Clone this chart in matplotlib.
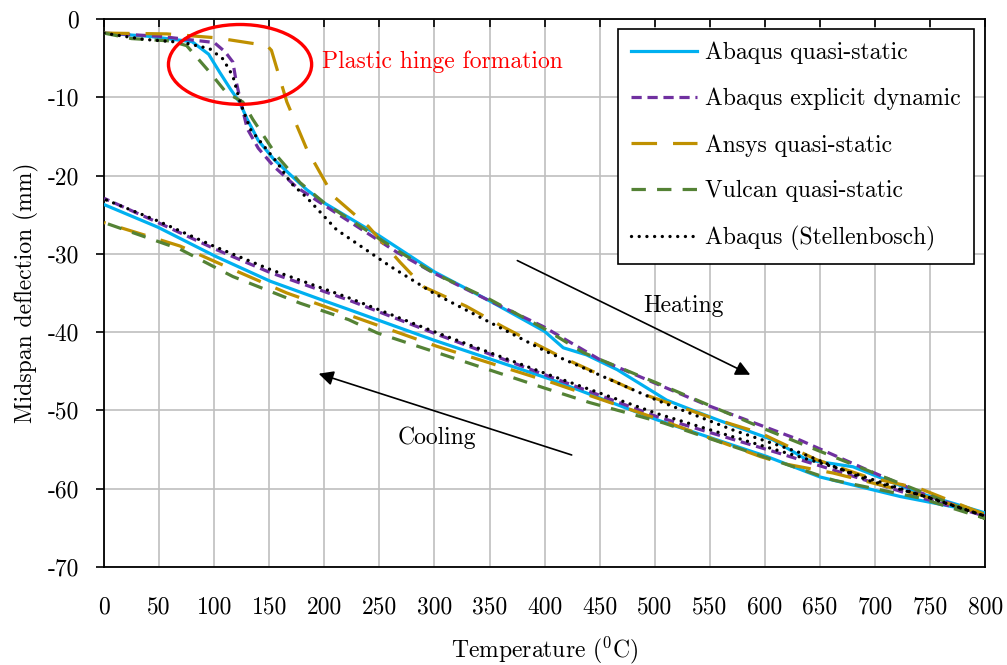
import numpy as np
import matplotlib
matplotlib.use("Agg")
import matplotlib.pyplot as plt
from matplotlib.patches import Ellipse

plt.rcParams['font.family'] = ['cmr10', 'DejaVu Serif']
plt.rcParams['mathtext.fontset'] = 'cm'
plt.rcParams['axes.unicode_minus'] = False
plt.rcParams['axes.formatter.use_mathtext'] = False

# heating 0 -> 800, then cooling 800 -> 0
abq_qs_T = [0, 40, 80, 95, 105, 115, 123, 130, 140, 154, 170, 184, 200, 250, 300, 350, 400, 417, 438, 466, 511, 557, 608, 638, 680, 741, 800,
            723, 650, 602, 502, 405, 299, 222, 200, 151, 101, 49, 0]
abq_qs_d = [-1.8, -2.2, -2.9, -4.5, -6.8, -9.0, -10.6, -12.8, -15.5, -17.9, -20.0, -21.8, -23.5, -27.7, -32.3, -36.0, -39.9, -42.0, -42.9, -44.8, -48.7, -51.2, -53.8, -56.3, -57.2, -60.6, -63.1,
            -61.0, -58.5, -55.9, -51.2, -46.0, -41.0, -37.1, -36.0, -33.5, -30.3, -26.6, -23.7]

abq_ed_T = [0, 50, 100, 110, 117, 120, 123.5, 130, 140, 154, 175, 200, 266, 300, 350, 399, 450, 500, 547, 600, 632, 693, 741, 800,
            738, 662, 602, 502, 405, 299, 222, 151, 101, 49, 0]
abq_ed_d = [-1.8, -2.2, -3.0, -4.2, -5.5, -8.0, -10.2, -14.0, -16.5, -18.8, -21.5, -23.8, -29.8, -32.5, -36.0, -39.3, -43.5, -46.5, -49.3, -52.1, -53.8, -57.6, -60.5, -63.5,
            -61.0, -57.6, -55.0, -50.8, -45.7, -40.1, -35.9, -32.4, -29.4, -26.0, -22.9]

ansys_T = [0, 57, 102, 148, 152, 166, 184, 208, 240, 269, 290, 329, 362, 396, 414, 487, 557, 596, 647, 693, 741, 800,
           741, 662, 617, 596, 505, 408, 302, 248, 222, 166, 117, 69, 0]
ansys_d = [-1.8, -1.9, -2.4, -3.4, -4.0, -10.6, -16.6, -22.6, -26.5, -31.1, -34.2, -36.7, -39.3, -41.8, -43.1, -47.8, -51.2, -52.9, -56.3, -58.5, -60.0, -63.3,
           -60.8, -58.0, -56.8, -55.9, -51.2, -46.5, -41.8, -39.1, -37.8, -35.0, -32.0, -29.0, -26.0]

vulcan_T = [0, 25, 60, 75, 96, 111, 126, 135, 157, 178, 200, 269, 300, 350, 399, 435, 502, 602, 632, 708, 753, 800,
            741, 662, 571, 508, 441, 399, 302, 248, 222, 178, 117, 69, 0]
vulcan_d = [-1.8, -2.5, -2.8, -3.4, -6.8, -9.4, -10.6, -12.8, -17.5, -20.9, -23.5, -29.8, -32.5, -35.8, -39.5, -42.6, -46.5, -52.5, -54.2, -58.5, -61.0, -63.8,
            -61.2, -58.9, -54.6, -51.6, -49.0, -47.1, -42.6, -40.1, -38.4, -36.3, -32.9, -29.4, -26.0]

stel_T = [0, 36, 72, 96, 108, 117, 123.5, 133, 157, 170, 184, 211, 260, 299, 351, 399, 405, 502, 571, 632, 693, 751, 800,
          741, 662, 602, 502, 405, 299, 222, 151, 101, 49, 0]
stel_d = [-1.8, -2.6, -3.0, -3.8, -5.1, -7.3, -10.6, -14.1, -18.3, -21.0, -22.8, -26.9, -31.6, -35.0, -38.8, -42.3, -42.7, -48.7, -52.5, -55.4, -58.9, -61.2, -63.5,
          -60.8, -57.2, -54.7, -50.4, -45.5, -39.9, -35.6, -32.0, -29.1, -25.8, -23.0]

x_ticks = list(range(0, 801, 50))
y_ticks = list(range(-70, 1, 10))
y_labels = [str(v) for v in y_ticks]

fs = 17

fig = plt.figure(figsize=(10.07, 6.65), dpi=100)
ax = fig.add_axes([0.1033, 0.1474, 0.8750, 0.8240])

ax.plot(abq_qs_T, abq_qs_d, color='#00B0F0', lw=2.3, label='Abaqus quasi-static', zorder=3)
ax.plot(abq_ed_T, abq_ed_d, color='#7030A0', lw=2.3, dashes=(3.2, 1.8), label='Abaqus explicit dynamic', zorder=3)
ax.plot(ansys_T, ansys_d, color='#BF9000', lw=2.3, dashes=(8, 5), label='Ansys quasi-static', zorder=3)
ax.plot(vulcan_T, vulcan_d, color='#548235', lw=2.3, dashes=(4.5, 3.5), label='Vulcan quasi-static', zorder=3)
ax.plot(stel_T, stel_d, color='black', lw=2.4, dashes=(0.01, 2.3), dash_capstyle='round', label='Abaqus (Stellenbosch)', zorder=4)

# red ring round the hinge region (data coords)
ax.add_patch(Ellipse((123.5, -5.8), 130, 10.2, fill=False, edgecolor='#FF0000', lw=2.4, zorder=5))
ax.text(198, -5.4, 'Plastic hinge formation', color='#FF0000', fontsize=fs, va='center', ha='left')

ax.annotate('', xy=(589, -45.6), xytext=(373, -30.7),
            arrowprops=dict(arrowstyle='-|>', color='black', lw=1.2, mutation_scale=22))
ax.text(526, -36.7, 'Heating', fontsize=fs, ha='center', va='center')
ax.annotate('', xy=(192.5, -45.2), xytext=(427, -55.8),
            arrowprops=dict(arrowstyle='-|>', color='black', lw=1.2, mutation_scale=22))
ax.text(302, -53.5, 'Cooling', fontsize=fs, ha='center', va='center')

ax.set_xlim(0, 800)
ax.set_ylim(-70, 0)
ax.set_xticks(x_ticks)
ax.set_yticks(y_ticks)
ax.set_yticklabels(y_labels)
ax.grid(True, color='#BFBFBF', lw=1.2)
ax.set_axisbelow(True)
for s in ax.spines.values():
    s.set_color('black')
    s.set_linewidth(1.3)
ax.tick_params(axis='x', top=True, bottom=False, direction='in', length=6, width=1.2,
               labelsize=fs, pad=21)
ax.tick_params(axis='y', direction='out', length=6, width=1.2, labelsize=fs, pad=12)

ax.set_xlabel('Temperature ($^{\\mathbf{0}}$C)', fontsize=fs, labelpad=12)
ax.set_ylabel('Midspan deflection (mm)', fontsize=fs, labelpad=6)

leg = ax.legend(loc='upper right', bbox_to_anchor=(0.987, 0.982), borderaxespad=0,
                fancybox=False, edgecolor='black', framealpha=1, fontsize=fs,
                handlelength=2.8, handletextpad=0.35, labelspacing=1.0, borderpad=0.55)
leg.get_frame().set_linewidth(1.2)

fig.savefig('out.png', dpi=100)
